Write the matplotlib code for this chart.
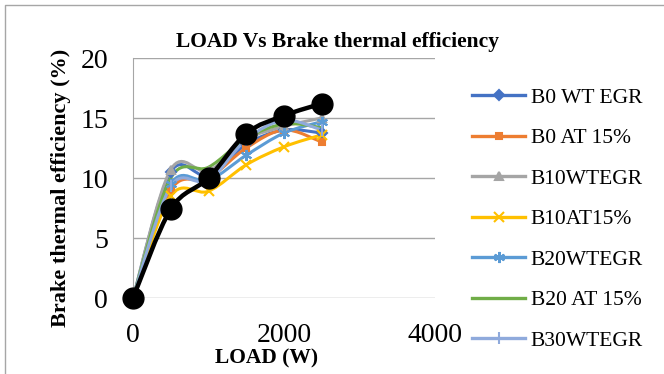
import numpy as np
import matplotlib.pyplot as plt
from matplotlib.path import Path
from matplotlib.patches import PathPatch
from matplotlib.lines import Line2D

plt.rcParams['font.family'] = ['Liberation Serif', 'DejaVu Serif']

load = [0, 500, 1000, 1500, 2000, 2500]

b0_wt_egr = [0, 10.5, 10.2, 12.8, 14.0, 13.75]
b0_at_15 = [0, 9.0, 10.0, 12.5, 14.0, 13.0]
b10_wt_egr = [0, 10.7, 10.6, 13.2, 14.3, 15.0]
b10_at_15 = [0, 8.5, 8.9, 11.1, 12.6, 13.6]
b20_wt_egr = [0, 9.5, 9.8, 11.9, 13.75, 14.7]
b20_at_15 = [0, 10.0, 10.9, 13.3, 14.5, 14.2]
b30_wt_egr = [0, 9.3, 9.8, 13.2, 14.8, 14.0]
b30_at_15 = [0, 7.4, 10.0, 13.7, 15.2, 16.2]

series = [
    ('B0 WT EGR', b0_wt_egr, '#4472C4', 'D', 5),
    ('B0 AT 15%', b0_at_15, '#ED7D31', 's', 5),
    ('B10WTEGR', b10_wt_egr, '#A5A5A5', '^', 6),
    ('B10AT15%', b10_at_15, '#FFC000', 'x', 7),
    ('B20WTEGR', b20_wt_egr, '#5B9BD5', (6, 2, 0), 8),
    ('B20 AT 15%', b20_at_15, '#70AD47', 'None', 0),
    ('B30WTEGR', b30_wt_egr, '#8FAADC', '|', 8),
]


def smooth_path(x, y):
    # excel style smoothed line: cubic bezier through the points
    p = np.column_stack([np.asarray(x, float), np.asarray(y, float)])
    n = len(p)
    verts = [p[0]]
    codes = [Path.MOVETO]
    for i in range(n - 1):
        p0 = p[i - 1] if i > 0 else p[i]
        p3 = p[i + 2] if i + 2 < n else p[i + 1]
        c1 = p[i] + (p[i + 1] - p0) / 6
        c2 = p[i + 1] - (p3 - p[i]) / 6
        verts += [c1, c2, p[i + 1]]
        codes += [Path.CURVE4] * 3
    return Path(verts, codes)


fig = plt.figure(figsize=(6.64, 3.74), dpi=100)
ax = fig.add_axes([133 / 664, 76 / 374, 302 / 664, 240 / 374])

handles = []
for name, vals, col, mk, ms in series:
    ax.add_patch(PathPatch(smooth_path(load, vals), fill=False, edgecolor=col,
                           lw=2.2, zorder=2, capstyle='round', clip_on=False))
    ax.plot(load, vals, ls='none', marker=mk, ms=ms, color=col, mew=1.5, zorder=3,
            clip_on=False)
    h, = ax.plot([], [], color=col, lw=2.4, marker=mk, ms=ms, mew=1.5)
    handles.append(h)

ax.add_patch(PathPatch(smooth_path(load, b30_at_15), fill=False, edgecolor='black',
                       lw=3.2, zorder=4, clip_on=False))
ax.plot(load, b30_at_15, ls='none', marker='o', ms=15, color='black', zorder=5,
        clip_on=False)

ax.set_xlim(0, 4000)
ax.set_ylim(0, 20)
ax.set_xticks([0, 2000, 4000])
ax.set_yticks([0, 5, 10, 15, 20])
ax.tick_params(length=0, labelsize=20)
ax.tick_params(axis='x', pad=18)
ax.tick_params(axis='y', pad=18)
ax.grid(axis='y', color='#A6A6A6', lw=1)
ax.set_axisbelow(True)
for s in ['top', 'right', 'bottom']:
    ax.spines[s].set_visible(False)
ax.spines['left'].set_color('#A6A6A6')

fig.text(338 / 664, 1 - 42 / 374, 'LOAD Vs Brake thermal efficiency', ha='center',
         va='center', fontsize=15.5, fontweight='bold')
fig.text(267 / 664, 1 - 358 / 374, 'LOAD (W)', ha='center', va='center',
         fontsize=15.5, fontweight='bold')
fig.text(61 / 664, 1 - 188 / 374, 'Brake thermal efficiency (%)', ha='center',
         va='center', rotation=90, fontsize=16, fontweight='bold')

fig.legend(handles, [s[0] for s in series], loc='upper left',
           bbox_to_anchor=(463 / 664, 1 - 79 / 374), frameon=False, fontsize=15.5,
           handlelength=2.5, labelspacing=0.95, handletextpad=0.25, borderaxespad=0)

# chart border (only top and left edges fall inside the picture)
fig.add_artist(Line2D([5 / 664, 5 / 664, 1], [0, 1 - 5 / 374, 1 - 5 / 374],
                      transform=fig.transFigure, color='#A6A6A6', lw=1))

fig.savefig('out.png', dpi=100)
